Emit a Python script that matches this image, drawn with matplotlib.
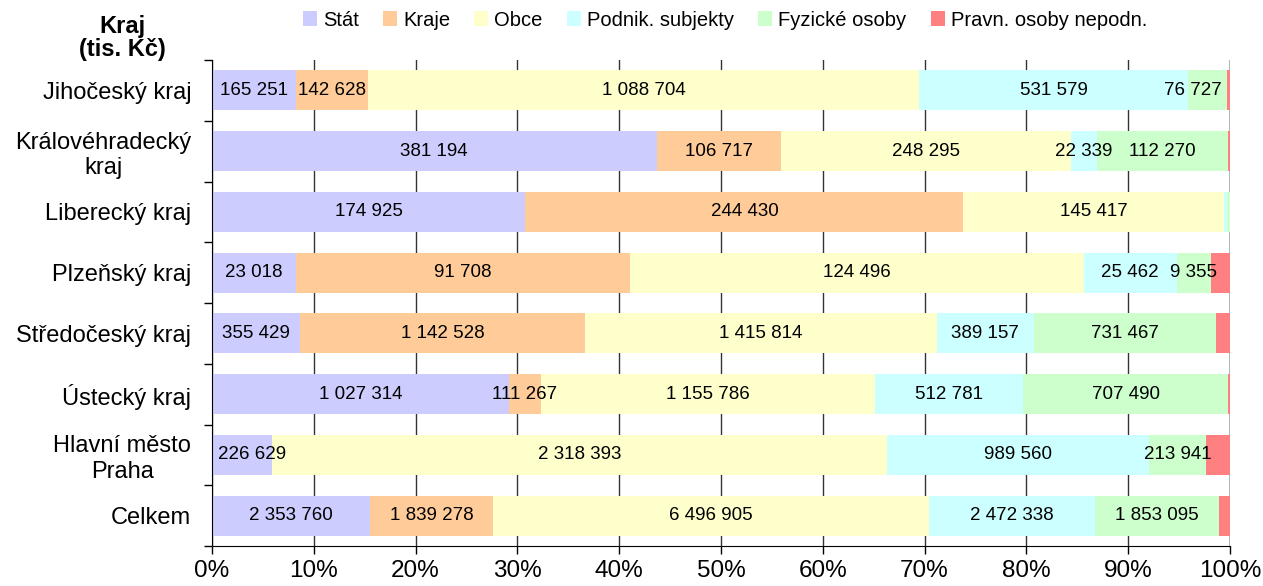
import numpy as np
import matplotlib.pyplot as plt
from matplotlib.ticker import PercentFormatter

plt.rcParams['font.family'] = ['Liberation Sans', 'DejaVu Sans']

# categories (top to bottom)
kraje = ['Jihočeský kraj', 'Královéhradecký\nkraj', 'Liberecký kraj', 'Plzeňský kraj',
         'Středočeský kraj', 'Ústecký kraj', 'Hlavní město\nPraha', 'Celkem']

series_names = ['Stát', 'Kraje', 'Obce', 'Podnik. subjekty', 'Fyzické osoby', 'Pravn. osoby nepodn.']

stat = [165251, 381194, 174925, 23018, 355429, 1027314, 226629, 2353760]
kraje_val = [142628, 106717, 244430, 91708, 1142528, 111267, 0, 1839278]
obce = [1088704, 248295, 145417, 124496, 1415814, 1155786, 2318393, 6496905]
podnik = [531579, 22339, 1460, 25462, 389157, 512781, 989560, 2472338]
fyzicke = [76727, 112270, 1845, 9355, 731467, 707490, 213941, 1853095]
pravn = [6000, 2000, 0, 5300, 57000, 7000, 90000, 167300]

colors = ['#CCCCFF', '#FFCC99', '#FFFFCC', '#CCFFFF', '#CCFFCC', '#FF8080']

data = np.array([stat, kraje_val, obce, podnik, fyzicke, pravn], dtype=float)
totals = data.sum(axis=0)
shares = data / totals * 100

fig = plt.figure(figsize=(12.63, 5.86), dpi=100)
ax = fig.add_axes([212 / 1263, 40 / 586, 1018 / 1263, 486 / 586])

y = np.arange(len(kraje))
left = np.zeros(len(kraje))
labels = []
for i, name in enumerate(series_names):
    ax.barh(y, shares[i], left=left, height=0.66, color=colors[i], label=name, zorder=2)
    # popisky hodnot
    if i < len(series_names) - 1:
        for j in range(len(kraje)):
            if shares[i, j] > 1.0:
                txt = f"{int(data[i, j]):,}".replace(",", " ")
                t = ax.text(left[j] + shares[i, j] / 2, y[j], txt, ha='center', va='center',
                            fontsize=13.5, zorder=3)
                labels.append(t)
    left += shares[i]

ax.set_xlim(0, 100)
ax.set_ylim(len(kraje) - 0.5, -0.5)
ax.set_xticks(np.arange(0, 101, 10))
ax.xaxis.set_major_formatter(PercentFormatter(decimals=0))
ax.set_yticks(y)
ax.set_yticklabels(kraje)
ax.set_yticks(np.arange(-0.5, len(kraje), 1), minor=True)
ax.tick_params(axis='y', which='major', length=0, labelsize=17, pad=15)
ax.tick_params(axis='y', which='minor', length=6, width=1)
ax.tick_params(axis='x', length=6, width=1, labelsize=17.5, pad=4)
for lbl in ax.get_yticklabels():
    lbl.set_multialignment('center')

ax.grid(axis='x', color='#333333', linewidth=1, zorder=0)
ax.axvline(100, color='#333333', linewidth=1, zorder=0)
ax.spines['top'].set_visible(False)
ax.spines['right'].set_visible(False)

fig.text(122 / 1263, 1 - 38 / 586, 'Kraj\n(tis. Kč)', ha='center', va='center',
         fontsize=17, fontweight='bold', linespacing=1.05)

ax.legend(loc='center', ncol=6, frameon=False,
          fontsize=14.5, handlelength=0.7, handleheight=0.7, handletextpad=0.3, columnspacing=1.2)
ax.get_legend().set_bbox_to_anchor((725 / 1263, (586 - 20) / 586), transform=fig.transFigure)

# keep value labels inside the plot area (like Excel does)
fig.canvas.draw()
renderer = fig.canvas.get_renderer()
ax_box = ax.get_window_extent()
px_per_unit = ax_box.width / 100
for t in labels:
    bb = t.get_window_extent(renderer)
    shift = 0
    if bb.x0 < ax_box.x0 + 6:
        shift = (ax_box.x0 + 6 - bb.x0) / px_per_unit
    elif bb.x1 > ax_box.x1 - 8:
        shift = (ax_box.x1 - 8 - bb.x1) / px_per_unit
    if shift:
        x0, y0 = t.get_position()
        t.set_position((x0 + shift, y0))

fig.savefig('out.png', dpi=100)
